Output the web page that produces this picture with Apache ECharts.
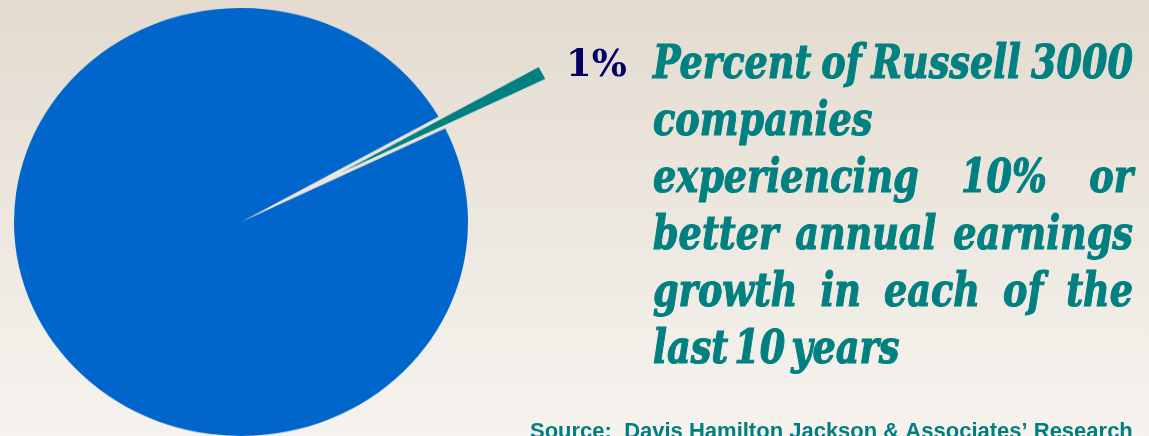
<!DOCTYPE html>
<html><head><meta charset="utf-8">
<script src="https://cdn.jsdelivr.net/npm/echarts@6/dist/echarts.min.js"></script>
<style>
html,body{margin:0;padding:0;width:1149px;height:436px;overflow:hidden;position:relative;}
#bg{position:absolute;left:0;top:0;width:1149px;height:436px;}
#pie{position:absolute;left:0;top:-40px;width:1149px;height:560px;transform-origin:241px 262px;transform:scaleY(0.943);}
</style></head><body>
<div id="bg"></div><div id="pie"></div>
<script>
// ---- data ----
const categories = ['Other Russell 3000 companies', 'Companies with 10%+ annual earnings growth in each of the last 10 years'];
const shares = [99, 1];
const sliceColors = ['#0066CC', '#008080'];
const highlightLabel = '1%';
const descriptionLines = ['Percent of Russell 3000', 'companies', 'experiencing 10% or', 'better annual earnings', 'growth in each of the', 'last 10 years'];
const sourceText = 'Source:  Davis Hamilton Jackson & Associates\u2019 Research';

// ---- pie ----
const pieChart = echarts.init(document.getElementById('pie'), null, {renderer:'canvas'});
pieChart.setOption({
  animation: false,
  backgroundColor: 'transparent',
  series: [{
    type: 'pie',
    center: [241, 262],
    radius: 227,
    startAngle: 25.9,
    clockwise: true,
    selectedMode: 'single',
    selectedOffset: 113,
    silent: true,
    label: {show: false},
    labelLine: {show: false},
    emphasis: {disabled: true},
    data: categories.map((n, i) => ({
      name: n, value: shares[i],
      itemStyle: {color: sliceColors[i], borderWidth: 0},
      selected: i === 1
    }))
  }]
});

// ---- text layer ----
const justifiedLines = [true, false, true, true, true, false];
const fs = 46;
const family = '"DejaVu Serif"';
const font = 'italic bold ' + fs + 'px ' + family;
const ctx = document.createElement('canvas').getContext('2d');
ctx.font = font;
const left = 653, right = 1133, base0 = 82, lh = 57, gapNat = 10;
const mw = w => ctx.measureText(w).width;
const words0 = descriptionLines[0].split(' ');
const sx = (right - left - gapNat * (words0.length - 1)) / words0.reduce((a, w) => a + mw(w), 0);
const midOff = 0.346 * fs;
const elements = [];
descriptionLines.forEach((line, li) => {
  const ws = line.split(' ');
  const widths = ws.map(w => mw(w) * sx);
  const total = widths.reduce((a, b) => a + b, 0);
  const gap = (justifiedLines[li] && ws.length > 1) ? (right - left - total) / (ws.length - 1) : (li === 5 ? 6 : gapNat);
  let x = left;
  ws.forEach((w, wi) => {
    elements.push({
      type: 'text', x: x, y: base0 + li * lh - midOff, scaleX: sx,
      style: {text: w, x: 0, y: 0, font: font, fill: '#008080', stroke: '#008080', lineWidth: 1.2,
        align: 'left', verticalAlign: 'middle', textAlign: 'left', textVerticalAlign: 'middle'}
    });
    x += widths[wi] + gap;
  });
});
elements.push({
  type: 'text', x: 566, y: 79 - 0.346 * 37,
  style: {text: highlightLabel, x: 0, y: 0, font: 'bold 37px ' + family, fill: '#000066',
    align: 'left', verticalAlign: 'middle', textAlign: 'left', textVerticalAlign: 'middle'}
});
elements.push({
  type: 'text', x: 530, y: 440 - 0.346 * 22,
  style: {text: sourceText, x: 0, y: 0, font: 'bold 22px "Liberation Sans"', fill: '#007f7f',
    align: 'left', verticalAlign: 'middle', textAlign: 'left', textVerticalAlign: 'middle'}
});

const bgChart = echarts.init(document.getElementById('bg'), null, {renderer:'canvas'});
bgChart.setOption({
  animation: false,
  backgroundColor: {type: 'linear', x: 0, y: 0, x2: 0, y2: 1,
    colorStops: [{offset: 0, color: '#e3dbcf'}, {offset: 1, color: '#f6f3ef'}]},
  graphic: {elements: elements}
});
</script>
</body></html>
